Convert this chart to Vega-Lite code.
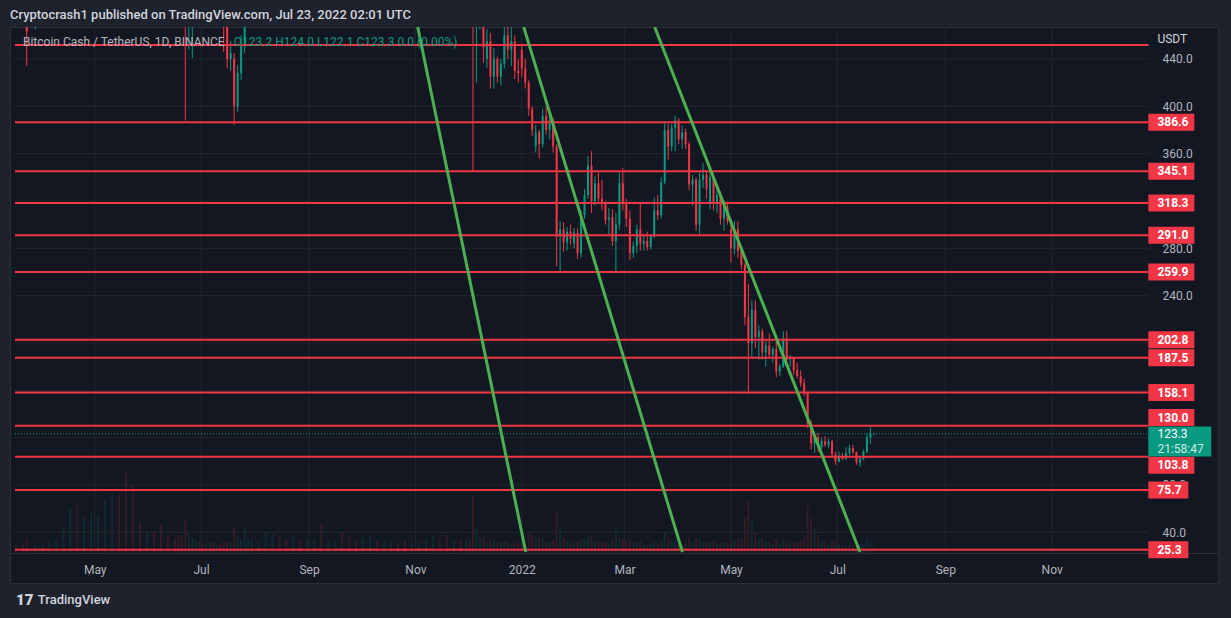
{
  "$schema": "https://vega.github.io/schema/vega-lite/v6.json",
  "width": 1208,
  "height": 556,
  "autosize": "none",
  "padding": {"left": 10, "top": 27, "right": 13, "bottom": 35},
  "background": "#1e222d",
  "title": {
    "text": "Cryptocrash1 published on TradingView.com, Jul 23, 2022 02:01 UTC",
    "anchor": "start",
    "frame": "group",
    "color": "#d1d4dc",
    "font": "Roboto",
    "fontSize": 13,
    "fontWeight": 500,
    "offset": 5
  },
  "config": {
    "view": {"fill": "#131722", "stroke": "#2a2e39", "strokeWidth": 1},
    "axis": {"grid": false, "ticks": false, "domain": false, "labelColor": "#b2b5be", "labelFont": "Roboto", "labelFontSize": 12},
    "text": {"font": "Roboto"}
  },
  "datasets": {
    "candles": [
      {"d": "2021-03-17", "o": 525, "h": 545, "l": 505, "c": 515, "v": 85},
      {"d": "2021-03-21", "o": 515, "h": 530, "l": 480, "c": 490, "v": 90},
      {"d": "2021-03-23", "o": 490, "h": 500, "l": 434, "c": 463, "v": 140},
      {"d": "2021-03-28", "o": 470, "h": 510, "l": 465, "c": 500, "v": 80},
      {"d": "2021-04-01", "o": 520, "h": 560, "l": 510, "c": 545, "v": 95},
      {"d": "2021-04-05", "o": 545, "h": 600, "l": 540, "c": 590, "v": 110},
      {"d": "2021-04-09", "o": 590, "h": 640, "l": 575, "c": 620, "v": 130},
      {"d": "2021-04-13", "o": 640, "h": 760, "l": 630, "c": 740, "v": 260},
      {"d": "2021-04-17", "o": 800, "h": 980, "l": 780, "c": 940, "v": 460},
      {"d": "2021-04-21", "o": 950, "h": 1000, "l": 760, "c": 800, "v": 500},
      {"d": "2021-04-25", "o": 760, "h": 830, "l": 700, "c": 780, "v": 350},
      {"d": "2021-04-29", "o": 860, "h": 1000, "l": 820, "c": 960, "v": 400},
      {"d": "2021-05-03", "o": 1030, "h": 1150, "l": 980, "c": 1100, "v": 380},
      {"d": "2021-05-07", "o": 1280, "h": 1450, "l": 1200, "c": 1380, "v": 540},
      {"d": "2021-05-11", "o": 1400, "h": 1640, "l": 1350, "c": 1450, "v": 600},
      {"d": "2021-05-15", "o": 1300, "h": 1330, "l": 1050, "c": 1100, "v": 580},
      {"d": "2021-05-19", "o": 1000, "h": 1060, "l": 550, "c": 800, "v": 820},
      {"d": "2021-05-23", "o": 760, "h": 800, "l": 560, "c": 650, "v": 680},
      {"d": "2021-05-27", "o": 760, "h": 800, "l": 700, "c": 730, "v": 300},
      {"d": "2021-05-31", "o": 680, "h": 720, "l": 630, "c": 700, "v": 220},
      {"d": "2021-06-04", "o": 700, "h": 720, "l": 600, "c": 640, "v": 220},
      {"d": "2021-06-08", "o": 630, "h": 650, "l": 520, "c": 580, "v": 280},
      {"d": "2021-06-12", "o": 600, "h": 620, "l": 560, "c": 570, "v": 180},
      {"d": "2021-06-16", "o": 620, "h": 640, "l": 590, "c": 600, "v": 150},
      {"d": "2021-06-18", "o": 600, "h": 610, "l": 540, "c": 560, "v": 170},
      {"d": "2021-06-20", "o": 560, "h": 570, "l": 470, "c": 520, "v": 180},
      {"d": "2021-06-22", "o": 480, "h": 500, "l": 388, "c": 470, "v": 320},
      {"d": "2021-06-24", "o": 470, "h": 520, "l": 448, "c": 505, "v": 200},
      {"d": "2021-06-26", "o": 485, "h": 515, "l": 441, "c": 500, "v": 150},
      {"d": "2021-06-28", "o": 500, "h": 530, "l": 480, "c": 520, "v": 120},
      {"d": "2021-06-30", "o": 520, "h": 540, "l": 490, "c": 505, "v": 110},
      {"d": "2021-07-02", "o": 505, "h": 520, "l": 480, "c": 500, "v": 100},
      {"d": "2021-07-04", "o": 500, "h": 540, "l": 490, "c": 530, "v": 90},
      {"d": "2021-07-06", "o": 530, "h": 560, "l": 510, "c": 540, "v": 100},
      {"d": "2021-07-08", "o": 540, "h": 550, "l": 480, "c": 490, "v": 110},
      {"d": "2021-07-10", "o": 490, "h": 510, "l": 475, "c": 500, "v": 80},
      {"d": "2021-07-12", "o": 500, "h": 510, "l": 470, "c": 480, "v": 90},
      {"d": "2021-07-14", "o": 480, "h": 490, "l": 446, "c": 470, "v": 110},
      {"d": "2021-07-16", "o": 470, "h": 475, "l": 432, "c": 440, "v": 120},
      {"d": "2021-07-18", "o": 440, "h": 455, "l": 430, "c": 445, "v": 100},
      {"d": "2021-07-20", "o": 440, "h": 445, "l": 384, "c": 400, "v": 260},
      {"d": "2021-07-22", "o": 400, "h": 435, "l": 395, "c": 428, "v": 170},
      {"d": "2021-07-24", "o": 428, "h": 460, "l": 422, "c": 452, "v": 140},
      {"d": "2021-07-26", "o": 452, "h": 530, "l": 445, "c": 510, "v": 250},
      {"d": "2021-07-28", "o": 510, "h": 540, "l": 495, "c": 525, "v": 150},
      {"d": "2021-07-30", "o": 525, "h": 560, "l": 510, "c": 545, "v": 130},
      {"d": "2021-08-03", "o": 545, "h": 580, "l": 530, "c": 560, "v": 120},
      {"d": "2021-08-07", "o": 560, "h": 640, "l": 555, "c": 620, "v": 200},
      {"d": "2021-08-11", "o": 620, "h": 690, "l": 610, "c": 680, "v": 190},
      {"d": "2021-08-15", "o": 680, "h": 710, "l": 650, "c": 670, "v": 160},
      {"d": "2021-08-19", "o": 670, "h": 690, "l": 630, "c": 660, "v": 140},
      {"d": "2021-08-23", "o": 660, "h": 730, "l": 650, "c": 700, "v": 170},
      {"d": "2021-08-27", "o": 700, "h": 720, "l": 660, "c": 690, "v": 130},
      {"d": "2021-08-31", "o": 690, "h": 720, "l": 660, "c": 700, "v": 120},
      {"d": "2021-09-04", "o": 700, "h": 740, "l": 690, "c": 720, "v": 130},
      {"d": "2021-09-08", "o": 720, "h": 730, "l": 550, "c": 600, "v": 300},
      {"d": "2021-09-12", "o": 600, "h": 640, "l": 590, "c": 630, "v": 130},
      {"d": "2021-09-16", "o": 630, "h": 660, "l": 610, "c": 640, "v": 110},
      {"d": "2021-09-20", "o": 640, "h": 645, "l": 520, "c": 530, "v": 200},
      {"d": "2021-09-24", "o": 530, "h": 560, "l": 490, "c": 520, "v": 160},
      {"d": "2021-09-28", "o": 520, "h": 540, "l": 500, "c": 510, "v": 110},
      {"d": "2021-10-02", "o": 510, "h": 600, "l": 505, "c": 590, "v": 150},
      {"d": "2021-10-06", "o": 590, "h": 650, "l": 580, "c": 630, "v": 160},
      {"d": "2021-10-10", "o": 630, "h": 650, "l": 600, "c": 610, "v": 120},
      {"d": "2021-10-14", "o": 610, "h": 640, "l": 595, "c": 625, "v": 100},
      {"d": "2021-10-18", "o": 625, "h": 660, "l": 610, "c": 640, "v": 110},
      {"d": "2021-10-22", "o": 640, "h": 660, "l": 600, "c": 610, "v": 100},
      {"d": "2021-10-26", "o": 610, "h": 640, "l": 560, "c": 580, "v": 120},
      {"d": "2021-10-30", "o": 580, "h": 600, "l": 550, "c": 590, "v": 100},
      {"d": "2021-11-03", "o": 590, "h": 640, "l": 580, "c": 620, "v": 110},
      {"d": "2021-11-07", "o": 620, "h": 680, "l": 610, "c": 660, "v": 140},
      {"d": "2021-11-11", "o": 660, "h": 720, "l": 640, "c": 690, "v": 170},
      {"d": "2021-11-15", "o": 690, "h": 700, "l": 620, "c": 640, "v": 130},
      {"d": "2021-11-19", "o": 640, "h": 650, "l": 560, "c": 580, "v": 180},
      {"d": "2021-11-23", "o": 580, "h": 610, "l": 560, "c": 590, "v": 120},
      {"d": "2021-11-27", "o": 590, "h": 610, "l": 540, "c": 560, "v": 130},
      {"d": "2021-11-30", "o": 560, "h": 600, "l": 540, "c": 570, "v": 120},
      {"d": "2021-12-02", "o": 570, "h": 590, "l": 540, "c": 555, "v": 130},
      {"d": "2021-12-04", "o": 555, "h": 560, "l": 345, "c": 470, "v": 560},
      {"d": "2021-12-06", "o": 470, "h": 500, "l": 420, "c": 485, "v": 250},
      {"d": "2021-12-08", "o": 485, "h": 510, "l": 465, "c": 490, "v": 140},
      {"d": "2021-12-10", "o": 480, "h": 500, "l": 437, "c": 450, "v": 160},
      {"d": "2021-12-12", "o": 440, "h": 465, "l": 432, "c": 455, "v": 110},
      {"d": "2021-12-14", "o": 455, "h": 462, "l": 415, "c": 425, "v": 140},
      {"d": "2021-12-16", "o": 425, "h": 449, "l": 415, "c": 440, "v": 120},
      {"d": "2021-12-18", "o": 440, "h": 442, "l": 420, "c": 425, "v": 100},
      {"d": "2021-12-20", "o": 425, "h": 440, "l": 418, "c": 436, "v": 100},
      {"d": "2021-12-22", "o": 436, "h": 470, "l": 432, "c": 460, "v": 120},
      {"d": "2021-12-24", "o": 460, "h": 475, "l": 440, "c": 448, "v": 110},
      {"d": "2021-12-26", "o": 448, "h": 470, "l": 434, "c": 455, "v": 90},
      {"d": "2021-12-28", "o": 455, "h": 460, "l": 423, "c": 430, "v": 110},
      {"d": "2021-12-30", "o": 430, "h": 440, "l": 420, "c": 428, "v": 90},
      {"d": "2022-01-01", "o": 448, "h": 453, "l": 425, "c": 432, "v": 90},
      {"d": "2022-01-03", "o": 432, "h": 440, "l": 415, "c": 420, "v": 100},
      {"d": "2022-01-05", "o": 420, "h": 422, "l": 392, "c": 398, "v": 190},
      {"d": "2022-01-07", "o": 398, "h": 400, "l": 375, "c": 380, "v": 180},
      {"d": "2022-01-09", "o": 366, "h": 384, "l": 361, "c": 378, "v": 150},
      {"d": "2022-01-11", "o": 378, "h": 380, "l": 356, "c": 368, "v": 160},
      {"d": "2022-01-13", "o": 368, "h": 398, "l": 365, "c": 392, "v": 150},
      {"d": "2022-01-15", "o": 392, "h": 400, "l": 376, "c": 380, "v": 110},
      {"d": "2022-01-17", "o": 380, "h": 395, "l": 372, "c": 388, "v": 100},
      {"d": "2022-01-19", "o": 388, "h": 390, "l": 361, "c": 366, "v": 120},
      {"d": "2022-01-21", "o": 366, "h": 368, "l": 265, "c": 290, "v": 420},
      {"d": "2022-01-23", "o": 290, "h": 303, "l": 260, "c": 296, "v": 260},
      {"d": "2022-01-25", "o": 296, "h": 302, "l": 277, "c": 285, "v": 150},
      {"d": "2022-01-27", "o": 285, "h": 298, "l": 278, "c": 294, "v": 120},
      {"d": "2022-01-29", "o": 294, "h": 300, "l": 283, "c": 288, "v": 100},
      {"d": "2022-01-31", "o": 284, "h": 297, "l": 280, "c": 293, "v": 100},
      {"d": "2022-02-02", "o": 293, "h": 297, "l": 271, "c": 276, "v": 120},
      {"d": "2022-02-04", "o": 276, "h": 312, "l": 272, "c": 308, "v": 140},
      {"d": "2022-02-06", "o": 308, "h": 330, "l": 305, "c": 325, "v": 140},
      {"d": "2022-02-08", "o": 325, "h": 358, "l": 322, "c": 350, "v": 170},
      {"d": "2022-02-10", "o": 350, "h": 362, "l": 310, "c": 320, "v": 170},
      {"d": "2022-02-12", "o": 320, "h": 341, "l": 316, "c": 335, "v": 120},
      {"d": "2022-02-14", "o": 335, "h": 344, "l": 318, "c": 322, "v": 110},
      {"d": "2022-02-16", "o": 322, "h": 338, "l": 312, "c": 318, "v": 100},
      {"d": "2022-02-18", "o": 318, "h": 320, "l": 300, "c": 304, "v": 110},
      {"d": "2022-02-20", "o": 304, "h": 314, "l": 292, "c": 306, "v": 100},
      {"d": "2022-02-22", "o": 306, "h": 313, "l": 282, "c": 286, "v": 130},
      {"d": "2022-02-24", "o": 286, "h": 310, "l": 259, "c": 300, "v": 240},
      {"d": "2022-02-26", "o": 300, "h": 344, "l": 296, "c": 335, "v": 160},
      {"d": "2022-02-28", "o": 335, "h": 348, "l": 312, "c": 318, "v": 150},
      {"d": "2022-03-02", "o": 318, "h": 322, "l": 298, "c": 305, "v": 130},
      {"d": "2022-03-04", "o": 305, "h": 312, "l": 270, "c": 276, "v": 140},
      {"d": "2022-03-06", "o": 276, "h": 286, "l": 272, "c": 282, "v": 100},
      {"d": "2022-03-08", "o": 282, "h": 300, "l": 276, "c": 296, "v": 110},
      {"d": "2022-03-10", "o": 296, "h": 318, "l": 278, "c": 284, "v": 120},
      {"d": "2022-03-12", "o": 284, "h": 292, "l": 278, "c": 286, "v": 90},
      {"d": "2022-03-14", "o": 286, "h": 294, "l": 278, "c": 281, "v": 80},
      {"d": "2022-03-16", "o": 281, "h": 292, "l": 279, "c": 290, "v": 90},
      {"d": "2022-03-18", "o": 290, "h": 323, "l": 289, "c": 312, "v": 110},
      {"d": "2022-03-20", "o": 312, "h": 325, "l": 304, "c": 308, "v": 90},
      {"d": "2022-03-22", "o": 308, "h": 340, "l": 305, "c": 336, "v": 130},
      {"d": "2022-03-24", "o": 336, "h": 386, "l": 334, "c": 380, "v": 200},
      {"d": "2022-03-26", "o": 380, "h": 385, "l": 355, "c": 366, "v": 140},
      {"d": "2022-03-28", "o": 366, "h": 385, "l": 362, "c": 382, "v": 120},
      {"d": "2022-03-30", "o": 382, "h": 392, "l": 362, "c": 388, "v": 130},
      {"d": "2022-04-01", "o": 388, "h": 390, "l": 368, "c": 372, "v": 110},
      {"d": "2022-04-03", "o": 372, "h": 384, "l": 364, "c": 378, "v": 90},
      {"d": "2022-04-05", "o": 378, "h": 381, "l": 364, "c": 368, "v": 100},
      {"d": "2022-04-07", "o": 368, "h": 370, "l": 329, "c": 334, "v": 150},
      {"d": "2022-04-09", "o": 334, "h": 342, "l": 316, "c": 338, "v": 110},
      {"d": "2022-04-11", "o": 338, "h": 340, "l": 295, "c": 300, "v": 140},
      {"d": "2022-04-13", "o": 300, "h": 345, "l": 292, "c": 338, "v": 150},
      {"d": "2022-04-15", "o": 338, "h": 352, "l": 331, "c": 342, "v": 110},
      {"d": "2022-04-17", "o": 342, "h": 346, "l": 322, "c": 330, "v": 100},
      {"d": "2022-04-19", "o": 318, "h": 345, "l": 313, "c": 340, "v": 110},
      {"d": "2022-04-21", "o": 340, "h": 343, "l": 312, "c": 318, "v": 120},
      {"d": "2022-04-23", "o": 318, "h": 330, "l": 310, "c": 325, "v": 90},
      {"d": "2022-04-25", "o": 325, "h": 328, "l": 300, "c": 305, "v": 110},
      {"d": "2022-04-27", "o": 305, "h": 320, "l": 295, "c": 315, "v": 100},
      {"d": "2022-04-29", "o": 315, "h": 318, "l": 300, "c": 303, "v": 100},
      {"d": "2022-05-01", "o": 296, "h": 303, "l": 268, "c": 280, "v": 140},
      {"d": "2022-05-03", "o": 280, "h": 303, "l": 275, "c": 296, "v": 120},
      {"d": "2022-05-05", "o": 296, "h": 303, "l": 272, "c": 278, "v": 140},
      {"d": "2022-05-07", "o": 278, "h": 282, "l": 262, "c": 266, "v": 150},
      {"d": "2022-05-09", "o": 266, "h": 268, "l": 215, "c": 222, "v": 350},
      {"d": "2022-05-11", "o": 222, "h": 250, "l": 157, "c": 200, "v": 520},
      {"d": "2022-05-13", "o": 200, "h": 236, "l": 188, "c": 228, "v": 320},
      {"d": "2022-05-15", "o": 228, "h": 236, "l": 196, "c": 205, "v": 200},
      {"d": "2022-05-17", "o": 205, "h": 215, "l": 186, "c": 210, "v": 150},
      {"d": "2022-05-19", "o": 210, "h": 212, "l": 186, "c": 192, "v": 140},
      {"d": "2022-05-21", "o": 192, "h": 202, "l": 180, "c": 198, "v": 110},
      {"d": "2022-05-23", "o": 198, "h": 208, "l": 187, "c": 190, "v": 110},
      {"d": "2022-05-25", "o": 190, "h": 197, "l": 183, "c": 195, "v": 90},
      {"d": "2022-05-27", "o": 195, "h": 205, "l": 171, "c": 176, "v": 140},
      {"d": "2022-05-29", "o": 176, "h": 182, "l": 172, "c": 180, "v": 90},
      {"d": "2022-05-31", "o": 180, "h": 210, "l": 179, "c": 204, "v": 140},
      {"d": "2022-06-02", "o": 204, "h": 210, "l": 182, "c": 186, "v": 120},
      {"d": "2022-06-04", "o": 186, "h": 190, "l": 180, "c": 188, "v": 100},
      {"d": "2022-06-06", "o": 188, "h": 188, "l": 173, "c": 177, "v": 100},
      {"d": "2022-06-08", "o": 177, "h": 183, "l": 170, "c": 172, "v": 100},
      {"d": "2022-06-10", "o": 172, "h": 177, "l": 163, "c": 166, "v": 120},
      {"d": "2022-06-12", "o": 166, "h": 170, "l": 155, "c": 158, "v": 160},
      {"d": "2022-06-14", "o": 158, "h": 158, "l": 128, "c": 132, "v": 480},
      {"d": "2022-06-16", "o": 132, "h": 135, "l": 110, "c": 115, "v": 350},
      {"d": "2022-06-18", "o": 115, "h": 125, "l": 107, "c": 120, "v": 250},
      {"d": "2022-06-20", "o": 120, "h": 124, "l": 108, "c": 112, "v": 180},
      {"d": "2022-06-22", "o": 112, "h": 120, "l": 110, "c": 117, "v": 120},
      {"d": "2022-06-24", "o": 117, "h": 121, "l": 112, "c": 114, "v": 100},
      {"d": "2022-06-26", "o": 114, "h": 119, "l": 111, "c": 117, "v": 80},
      {"d": "2022-06-28", "o": 117, "h": 118, "l": 103, "c": 106, "v": 110},
      {"d": "2022-06-30", "o": 106, "h": 108, "l": 97, "c": 100, "v": 130},
      {"d": "2022-07-02", "o": 100, "h": 108, "l": 99, "c": 104, "v": 80},
      {"d": "2022-07-04", "o": 104, "h": 107, "l": 101, "c": 102, "v": 70},
      {"d": "2022-07-06", "o": 102, "h": 112, "l": 101, "c": 107, "v": 80},
      {"d": "2022-07-08", "o": 107, "h": 114, "l": 105, "c": 111, "v": 80},
      {"d": "2022-07-10", "o": 111, "h": 114, "l": 106, "c": 108, "v": 70},
      {"d": "2022-07-12", "o": 108, "h": 108, "l": 97, "c": 99, "v": 90},
      {"d": "2022-07-14", "o": 99, "h": 104, "l": 95.5, "c": 102, "v": 90},
      {"d": "2022-07-16", "o": 102, "h": 110, "l": 101, "c": 108, "v": 90},
      {"d": "2022-07-18", "o": 108, "h": 124, "l": 107, "c": 120, "v": 140},
      {"d": "2022-07-20", "o": 120, "h": 129, "l": 115, "c": 124, "v": 130},
      {"d": "2022-07-22", "o": 123.2, "h": 124, "l": 122.1, "c": 123.3, "v": 60}
    ],
    "levels": [
      {"p": 451.8}, {"p": 386.6}, {"p": 345.1}, {"p": 318.3}, {"p": 291.0}, {"p": 259.9}, {"p": 202.8},
      {"p": 187.5}, {"p": 158.1}, {"p": 130.0}, {"p": 103.8}, {"p": 75.7}, {"p": 25.3}
    ],
    "hgrid": [
      {"p": 40}, {"p": 80}, {"p": 120}, {"p": 160}, {"p": 200}, {"p": 240}, {"p": 280}, {"p": 320}, {"p": 360}, {"p": 400}, {"p": 440}
    ],
    "vgrid": [
      {"m": "2021-05-01"}, {"m": "2021-07-01"}, {"m": "2021-09-01"}, {"m": "2021-11-01"}, {"m": "2022-01-01"},
      {"m": "2022-03-01"}, {"m": "2022-05-01"}, {"m": "2022-07-01"}, {"m": "2022-09-01"}, {"m": "2022-11-01"}
    ]
  },
  "resolve": {"scale": {"y": "independent"}},
  "layer": [
    {
      "data": {"name": "candles"},
      "mark": {"type": "bar", "width": 2, "opacity": 0.15, "clip": true},
      "encoding": {
        "x": {
          "field": "d", "type": "temporal", "title": null,
          "scale": {
            "type": "utc", "nice": false,
            "domain": [
              {"year": 2021, "month": 3, "date": 16, "hours": 6, "minutes": 43, "utc": true},
              {"year": 2023, "month": 2, "date": 1, "hours": 13, "utc": true}
            ]
          },
          "axis": {
            "values": [
              {"year": 2021, "month": 5, "date": 1, "utc": true},
              {"year": 2021, "month": 7, "date": 1, "utc": true},
              {"year": 2021, "month": 9, "date": 1, "utc": true},
              {"year": 2021, "month": 11, "date": 1, "utc": true},
              {"year": 2022, "month": 1, "date": 1, "utc": true},
              {"year": 2022, "month": 3, "date": 1, "utc": true},
              {"year": 2022, "month": 5, "date": 1, "utc": true},
              {"year": 2022, "month": 7, "date": 1, "utc": true},
              {"year": 2022, "month": 9, "date": 1, "utc": true},
              {"year": 2022, "month": 11, "date": 1, "utc": true}
            ],
            "labelExpr": "utcFormat(datum.value, '%m') === '01' ? utcFormat(datum.value, '%Y') : utcFormat(datum.value, '%b')",
            "offset": -30,
            "domain": true,
            "domainColor": "#2a2e39",
            "labelPadding": 11,
            "labelFlush": false,
            "labelOverlap": false
          }
        },
        "y": {"field": "v", "type": "quantitative", "title": null, "scale": {"domain": [-300, 5260], "nice": false}, "axis": null},
        "color": {"condition": {"test": "datum.c >= datum.o", "value": "#089981"}, "value": "#f23645"}
      }
    },
    {
      "layer": [
        {
          "data": {"name": "vgrid"},
          "mark": {"type": "rule", "color": "#22262f", "strokeWidth": 1},
          "encoding": {
            "x": {"field": "m", "type": "temporal", "title": null},
            "y": {"datum": 23.4},
            "y2": {"datum": 467}
          }
        },
        {
          "data": {"name": "hgrid"},
          "mark": {"type": "rule", "color": "#22262f", "strokeWidth": 1},
          "encoding": {
            "y": {"field": "p", "type": "quantitative", "title": null},
            "x": {"datum": {"year": 2021, "month": 3, "date": 16, "hours": 6, "minutes": 43, "utc": true}, "type": "temporal"},
            "x2": {"datum": {"year": 2022, "month": 12, "date": 26, "hours": 13, "minutes": 27, "utc": true}}
          }
        },
        {
          "data": {"name": "candles"},
          "mark": {"type": "rule", "strokeWidth": 1, "clip": true},
          "encoding": {
            "x": {"field": "d", "type": "temporal", "title": null},
            "y": {
              "field": "l", "type": "quantitative", "title": null,
              "scale": {"domain": [-2.83, 467.0], "nice": false, "zero": false},
              "axis": {
                "orient": "right",
                "offset": -65,
                "values": [40, 80, 240, 280, 360, 400, 440],
                "format": ".1f",
                "labelPadding": 9,
                "labelAlign": "left",
                "title": null
              }
            },
            "y2": {"field": "h"},
            "color": {"condition": {"test": "datum.c >= datum.o", "value": "#089981"}, "value": "#f23645"}
          }
        },
        {
          "data": {"name": "candles"},
          "mark": {"type": "bar", "width": 2, "clip": true},
          "encoding": {
            "x": {"field": "d", "type": "temporal", "title": null},
            "y": {"field": "o", "type": "quantitative", "title": null},
            "y2": {"field": "c"},
            "color": {"condition": {"test": "datum.c >= datum.o", "value": "#089981"}, "value": "#f23645"}
          }
        },
        {
          "data": {"name": "levels"},
          "mark": {"type": "rule", "color": "#f23645", "strokeWidth": 2},
          "encoding": {
            "y": {"field": "p", "type": "quantitative", "title": null},
            "x": {"datum": {"year": 2021, "month": 3, "date": 16, "hours": 6, "minutes": 43, "utc": true}, "type": "temporal"},
            "x2": {"datum": {"year": 2022, "month": 12, "date": 26, "hours": 13, "minutes": 27, "utc": true}}
          }
        },
        {
          "data": {
            "values": [
              {"d1": "2021-11-02T07:12:00Z", "p1": 467.0, "d2": "2022-01-03T06:43:00Z", "p2": 23.4},
              {"d1": "2022-01-02T03:20:00Z", "p1": 467.0, "d2": "2022-04-03T04:00:00Z", "p2": 23.4},
              {"d1": "2022-03-18T05:45:00Z", "p1": 467.0, "d2": "2022-07-14T00:00:00Z", "p2": 23.4}
            ],
            "format": {"parse": {"d1": "date", "d2": "date"}}
          },
          "mark": {"type": "rule", "color": "#4caf50", "strokeWidth": 3, "clip": true},
          "encoding": {
            "x": {"field": "d1", "type": "temporal", "title": null},
            "x2": {"field": "d2"},
            "y": {"field": "p1", "type": "quantitative", "title": null},
            "y2": {"field": "p2"}
          }
        },
        {
          "data": {"values": [{"p": 123.3}]},
          "mark": {"type": "rule", "color": "#089981", "strokeWidth": 1, "strokeDash": [1, 2]},
          "encoding": {
            "y": {"field": "p", "type": "quantitative", "title": null},
            "x": {"datum": {"year": 2021, "month": 3, "date": 16, "hours": 6, "minutes": 43, "utc": true}, "type": "temporal"},
            "x2": {"datum": {"year": 2022, "month": 12, "date": 26, "hours": 13, "minutes": 27, "utc": true}}
          }
        },
        {
          "data": {"name": "levels"},
          "transform": [{"filter": "datum.p < 440 && datum.p >= 100 && datum.p != 130 && datum.p != 103.8"}],
          "mark": {"type": "tick", "orient": "horizontal", "size": 46, "thickness": 17, "color": "#f23645", "opacity": 1},
          "encoding": {
            "y": {"field": "p", "type": "quantitative", "title": null},
            "x": {"datum": {"year": 2023, "month": 1, "date": 8, "hours": 15, "minutes": 36, "utc": true}, "type": "temporal"}
          }
        },
        {
          "data": {"name": "levels"},
          "transform": [{"filter": "datum.p == 130"}],
          "mark": {"type": "tick", "orient": "horizontal", "size": 46, "thickness": 17, "color": "#f23645", "opacity": 1, "yOffset": -8.3},
          "encoding": {
            "y": {"field": "p", "type": "quantitative", "title": null},
            "x": {"datum": {"year": 2023, "month": 1, "date": 8, "hours": 15, "minutes": 36, "utc": true}, "type": "temporal"}
          }
        },
        {
          "data": {"name": "levels"},
          "transform": [{"filter": "datum.p == 103.8"}],
          "mark": {"type": "tick", "orient": "horizontal", "size": 46, "thickness": 17, "color": "#f23645", "opacity": 1, "yOffset": 8.5},
          "encoding": {
            "y": {"field": "p", "type": "quantitative", "title": null},
            "x": {"datum": {"year": 2023, "month": 1, "date": 8, "hours": 15, "minutes": 36, "utc": true}, "type": "temporal"}
          }
        },
        {
          "data": {"name": "levels"},
          "transform": [{"filter": "datum.p < 100"}],
          "mark": {"type": "tick", "orient": "horizontal", "size": 40, "thickness": 17, "color": "#f23645", "opacity": 1},
          "encoding": {
            "y": {"field": "p", "type": "quantitative", "title": null},
            "x": {"datum": {"year": 2023, "month": 1, "date": 6, "hours": 22, "minutes": 30, "utc": true}, "type": "temporal"}
          }
        },
        {
          "data": {"name": "levels"},
          "transform": [{"filter": "datum.p < 440 && datum.p != 130 && datum.p != 103.8"}],
          "mark": {"type": "text", "align": "left", "baseline": "middle", "color": "#ffffff", "fontSize": 12, "fontWeight": "bold"},
          "encoding": {
            "y": {"field": "p", "type": "quantitative", "title": null},
            "x": {"datum": {"year": 2022, "month": 12, "date": 31, "hours": 16, "minutes": 20, "utc": true}, "type": "temporal"},
            "text": {"field": "p", "type": "quantitative", "format": ".1f"}
          }
        },
        {
          "data": {"name": "levels"},
          "transform": [{"filter": "datum.p == 130"}],
          "mark": {"type": "text", "align": "left", "baseline": "middle", "color": "#ffffff", "fontSize": 12, "fontWeight": "bold", "yOffset": -8.3},
          "encoding": {
            "y": {"field": "p", "type": "quantitative", "title": null},
            "x": {"datum": {"year": 2022, "month": 12, "date": 31, "hours": 16, "minutes": 20, "utc": true}, "type": "temporal"},
            "text": {"field": "p", "type": "quantitative", "format": ".1f"}
          }
        },
        {
          "data": {"name": "levels"},
          "transform": [{"filter": "datum.p == 103.8"}],
          "mark": {"type": "text", "align": "left", "baseline": "middle", "color": "#ffffff", "fontSize": 12, "fontWeight": "bold", "yOffset": 8.5},
          "encoding": {
            "y": {"field": "p", "type": "quantitative", "title": null},
            "x": {"datum": {"year": 2022, "month": 12, "date": 31, "hours": 16, "minutes": 20, "utc": true}, "type": "temporal"},
            "text": {"field": "p", "type": "quantitative", "format": ".1f"}
          }
        },
        {
          "data": {"values": [{"p": 116.8}]},
          "mark": {"type": "tick", "orient": "horizontal", "size": 63, "thickness": 30, "color": "#089981", "opacity": 1},
          "encoding": {
            "y": {"field": "p", "type": "quantitative", "title": null},
            "x": {"datum": {"year": 2023, "month": 1, "date": 13, "hours": 11, "minutes": 30, "utc": true}, "type": "temporal"}
          }
        },
        {
          "data": {"values": [{"p": 123.3, "t": "123.3"}, {"p": 110.4, "t": "21:58:47"}]},
          "mark": {"type": "text", "align": "left", "baseline": "middle", "color": "#ffffff", "fontSize": 12},
          "encoding": {
            "y": {"field": "p", "type": "quantitative", "title": null},
            "x": {"datum": {"year": 2022, "month": 12, "date": 31, "hours": 16, "minutes": 20, "utc": true}, "type": "temporal"},
            "text": {"field": "t"},
            "opacity": {"condition": {"test": "datum.t === '123.3'", "value": 1}, "value": 0.8}
          }
        },
        {
          "data": {"values": [{"p": 456.9, "t": "USDT"}]},
          "mark": {"type": "text", "align": "left", "baseline": "middle", "color": "#d1d4dc", "fontSize": 12},
          "encoding": {
            "y": {"field": "p", "type": "quantitative", "title": null},
            "x": {"datum": {"year": 2022, "month": 12, "date": 31, "hours": 16, "minutes": 20, "utc": true}, "type": "temporal"},
            "text": {"field": "t"}
          }
        },
        {
          "data": {"values": [{"p": 454.3, "t": "Bitcoin Cash / TetherUS, 1D, BINANCE"}]},
          "mark": {"type": "text", "align": "left", "baseline": "middle", "color": "#b2b5be", "fontSize": 12},
          "encoding": {
            "y": {"field": "p", "type": "quantitative", "title": null},
            "x": {"datum": {"year": 2021, "month": 3, "date": 20, "hours": 20, "utc": true}, "type": "temporal"},
            "text": {"field": "t"}
          }
        },
        {
          "data": {"values": [{"p": 454.3, "t": "O123.2  H124.0  L122.1  C123.3  0.0 (0.00%)"}]},
          "mark": {"type": "text", "align": "left", "baseline": "middle", "color": "#089981", "fontSize": 12},
          "encoding": {
            "y": {"field": "p", "type": "quantitative", "title": null},
            "x": {"datum": {"year": 2021, "month": 7, "date": 19, "hours": 20, "utc": true}, "type": "temporal"},
            "text": {"field": "t"}
          }
        },
        {
          "data": {"values": [{"p": -17.2, "t": "TradingView"}]},
          "mark": {"type": "text", "align": "left", "baseline": "middle", "color": "#d1d4dc", "fontSize": 13, "fontWeight": 500},
          "encoding": {
            "y": {"field": "p", "type": "quantitative", "title": null},
            "x": {"datum": {"year": 2021, "month": 3, "date": 29, "hours": 9, "minutes": 30, "utc": true}, "type": "temporal"},
            "text": {"field": "t"}
          }
        },
        {
          "data": {"values": [{"p": -17.2, "t": "17"}]},
          "mark": {"type": "text", "align": "left", "baseline": "middle", "color": "#d1d4dc", "fontSize": 15, "fontWeight": 900},
          "encoding": {
            "y": {"field": "p", "type": "quantitative", "title": null},
            "x": {"datum": {"year": 2021, "month": 3, "date": 16, "hours": 20, "utc": true}, "type": "temporal"},
            "text": {"field": "t"}
          }
        }
      ]
    }
  ]
}
